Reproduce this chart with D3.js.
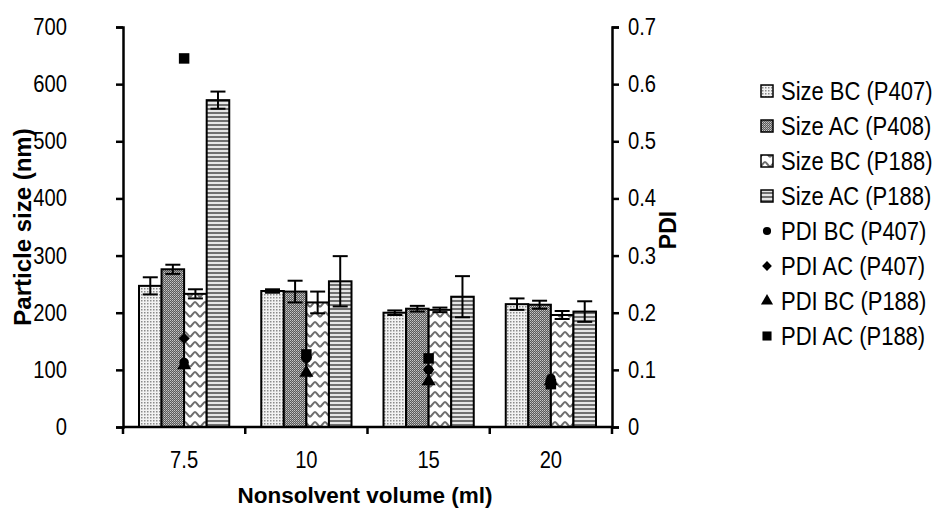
<!DOCTYPE html>
<html><head><meta charset="utf-8">
<script src="https://cdn.jsdelivr.net/npm/d3@7"></script>
<style>body{margin:0;background:#fff}svg{display:block}text{font-family:"Liberation Sans","Arial",sans-serif;fill:#000}</style>
</head><body>
<svg id="c" width="935" height="510"></svg>
<script>
const categories = ["7.5","10","15","20"];
const barSeries = ["Size BC (P407)","Size AC (P408)","Size BC (P188)","Size AC (P188)"];
const sizeBC407 = [247,238,200,215];
const sizeAC408 = [276,237,207,214];
const sizeBC188 = [233,218,205,196];
const sizeAC188 = [572,255,228,202];
const errBC407 = [15,3,4,10];
const errAC408 = [8,19,5,7];
const errBC188 = [8,19,4,7];
const errAC188 = [15,44,36,18];
const pdiSeries = ["PDI BC (P407)","PDI AC (P407)","PDI BC (P188)","PDI AC (P188)"];
const pdiBC407 = [0.113,0.120,0.100,0.085];
const pdiAC407 = [0.155,0.122,0.100,0.080];
const pdiBC188 = [0.108,0.095,0.080,0.080];
const pdiAC188 = [0.645,0.127,0.120,0.075];
const leftTicks = [0,100,200,300,400,500,600,700];
const rightTicks = [0,0.1,0.2,0.3,0.4,0.5,0.6,0.7];

const barVals = [sizeBC407,sizeAC408,sizeBC188,sizeAC188];
const barErr = [errBC407,errAC408,errBC188,errAC188];
const pdiVals = [pdiBC407,pdiAC407,pdiBC188,pdiAC188];

const svg = d3.select("#c");
const L = 123, R = 612, T = 27, B = 427;
const x = d3.scaleBand().domain(categories).range([L,R]).padding(0);
const xi = d3.scaleBand().domain(d3.range(4)).range([16, x.bandwidth()-16]).padding(0);
const y = d3.scaleLinear().domain([0,700]).range([B,T]);
const y2 = d3.scaleLinear().domain([0,0.7]).range([B,T]);

function cond(sel, s){
  sel.each(function(){
    const t = d3.select(this);
    const xx = +t.attr("x") || 0;
    t.attr("transform",`translate(${xx},0) scale(${s},1) translate(${-xx},0)`);
  });
}

// patterns
const defs = svg.append("defs");
const p1 = defs.append("pattern").attr("id","p0").attr("patternUnits","userSpaceOnUse").attr("width",3).attr("height",3);
p1.append("rect").attr("width",3).attr("height",3).attr("fill","#f2f2f2");
p1.append("rect").attr("width",1.5).attr("height",1.5).attr("fill","#8a8a8a");
const p2 = defs.append("pattern").attr("id","p1").attr("patternUnits","userSpaceOnUse").attr("width",2).attr("height",2);
p2.append("rect").attr("width",2).attr("height",2).attr("fill","#5a5a5a");
p2.append("rect").attr("width",1).attr("height",1).attr("fill","#c8c8c8");
p2.append("rect").attr("x",1).attr("y",1).attr("width",1).attr("height",1).attr("fill","#a0a0a0");
const p3 = defs.append("pattern").attr("id","p2").attr("patternUnits","userSpaceOnUse").attr("width",10).attr("height",10);
p3.append("rect").attr("width",10).attr("height",10).attr("fill","#fff");
p3.append("path").attr("d","M-1,7 C2,7 3,2 5,2 C7,2 8,7 11,7").attr("fill","none").attr("stroke","#6e6e6e").attr("stroke-width",2);
const p4 = defs.append("pattern").attr("id","p3").attr("patternUnits","userSpaceOnUse").attr("width",4).attr("height",4);
p4.append("rect").attr("width",4).attr("height",4).attr("fill","#e6e6e6");
p4.append("rect").attr("width",4).attr("height",2).attr("fill","#707070");

// bars
categories.forEach((c,ci)=>{
  barVals.forEach((vals,si)=>{
    const bx = x(c)+xi(si);
    svg.append("rect").attr("x",bx).attr("y",y(vals[ci])).attr("width",xi.bandwidth()).attr("height",B-y(vals[ci]))
      .attr("fill",`url(#p${si})`).attr("stroke","#000").attr("stroke-width",2);
  });
});
// error bars
categories.forEach((c,ci)=>{
  barVals.forEach((vals,si)=>{
    const cx = x(c)+xi(si)+xi.bandwidth()/2;
    const v = vals[ci], e = barErr[si][ci];
    const g = svg.append("g").attr("stroke","#000").attr("stroke-width",2);
    g.append("line").attr("x1",cx).attr("x2",cx).attr("y1",y(v+e)).attr("y2",y(v-e));
    g.append("line").attr("x1",cx-7.5).attr("x2",cx+7.5).attr("y1",y(v+e)).attr("y2",y(v+e));
    g.append("line").attr("x1",cx-7.5).attr("x2",cx+7.5).attr("y1",y(v-e)).attr("y2",y(v-e));
  });
});
// pdi markers
const symTypes = [d3.symbolCircle,d3.symbolSquare,d3.symbolTriangle,d3.symbolSquare];
const symSizes = [70,64,85,110];
const symRot = [0,45,0,0];
pdiVals.forEach((vals,si)=>{
  const s = d3.symbol().type(symTypes[si]).size(symSizes[si]);
  categories.forEach((c,ci)=>{
    svg.append("path").attr("d",s()).attr("fill","#000")
      .attr("transform",`translate(${x(c)+x.bandwidth()/2},${y2(vals[ci])}) rotate(${symRot[si]})`);
  });
});

// axes
const ax = svg.append("g").attr("transform",`translate(${L},0)`).call(d3.axisLeft(y).tickValues(leftTicks).tickSize(7).tickPadding(49));
const ay = svg.append("g").attr("transform",`translate(${R},0)`).call(d3.axisRight(y2).tickValues(rightTicks).tickSize(7).tickPadding(9).tickFormat(d=>d===0?"0":d3.format(".1f")(d)));
const axb = svg.append("g").attr("transform",`translate(0,${B})`).call(d3.axisBottom(x).tickSize(0).tickPadding(24));
[ax,ay,axb].forEach(g=>{
  g.select(".domain").attr("stroke","#000").attr("stroke-width",2.5);
  g.selectAll(".tick line").attr("stroke","#000").attr("stroke-width",2.5);
  g.selectAll("text").attr("font-size",23.5).attr("font-family",null);
  cond(g.selectAll("text"),0.86);
});
axb.select(".domain").attr("d",`M${L},0H${R}`);
// category boundary ticks
const bounds = categories.map(c=>x(c)).concat([R]);
svg.append("g").selectAll("line").data(bounds).join("line")
  .attr("x1",d=>d).attr("x2",d=>d).attr("y1",B).attr("y2",B+7).attr("stroke","#000").attr("stroke-width",2.5);

// titles
svg.append("text").attr("transform","translate(31,227) rotate(-90)").attr("text-anchor","middle")
  .attr("font-size",24).attr("font-weight","bold").text("Particle size (nm)");
svg.append("text").attr("transform","translate(676,230) rotate(-90)").attr("text-anchor","middle")
  .attr("font-size",23).attr("font-weight","bold").text("PDI");
svg.append("text").attr("x",365).attr("y",503).attr("text-anchor","middle")
  .attr("font-size",22.5).attr("font-weight","bold").text("Nonsolvent volume (ml)");

// legend
const legItems = barSeries.map((n,i)=>({n,t:"bar",i})).concat(pdiSeries.map((n,i)=>({n,t:"pt",i})));
const lg = svg.append("g");
legItems.forEach((d,k)=>{
  const cy = 91 + k*35;
  if(d.t==="bar"){
    lg.append("rect").attr("x",761).attr("y",cy-6).attr("width",12).attr("height",12)
      .attr("fill",`url(#p${d.i})`).attr("stroke","#000").attr("stroke-width",1.5);
  } else {
    lg.append("path").attr("d",d3.symbol().type(symTypes[d.i]).size(symSizes[d.i]*0.75)())
      .attr("fill","#000").attr("transform",`translate(767,${cy}) rotate(${symRot[d.i]})`);
  }
  const t = lg.append("text").attr("x",781).attr("y",cy+9).attr("font-size",25).text(d.n);
  cond(t,0.88);
});
</script>
</body></html>
